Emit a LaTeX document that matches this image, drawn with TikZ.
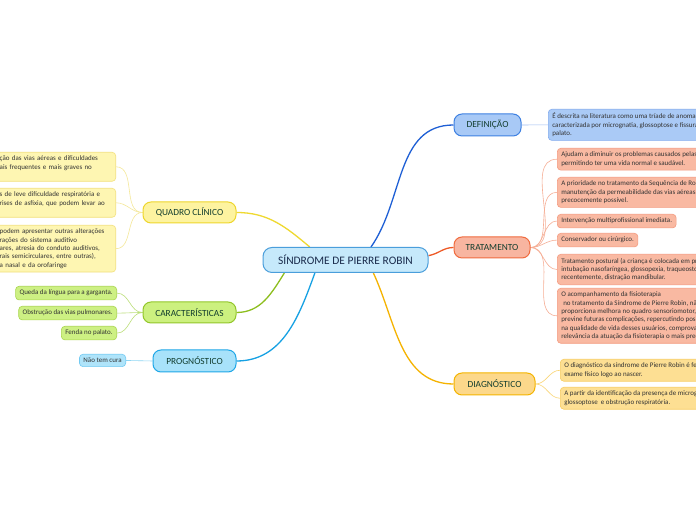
\documentclass[tikz,border=0pt]{standalone}
\usepackage{fontspec}
\setmainfont{Carlito}
\usetikzlibrary{calc,backgrounds}
\definecolor{cRootF}{HTML}{C6E9FB}
\definecolor{cRootD}{HTML}{4A9EDB}
\definecolor{cRootT}{HTML}{1A2B4C}
\definecolor{cBrT}{HTML}{123D2E}
\definecolor{cLeafT}{HTML}{333333}
\definecolor{cDefF}{HTML}{A8C9F6}
\definecolor{cDefD}{HTML}{3D80E2}
\definecolor{cDefL}{HTML}{1E5FD5}
\definecolor{cDefLF}{HTML}{AACAF6}
\definecolor{cDefLD}{HTML}{82ABEE}
\definecolor{cDefT}{HTML}{9CBDF2}
\definecolor{cTraF}{HTML}{F8B5A0}
\definecolor{cTraD}{HTML}{F06B3E}
\definecolor{cTraL}{HTML}{EE5A27}
\definecolor{cTraLF}{HTML}{F9B9A2}
\definecolor{cTraLD}{HTML}{F49B80}
\definecolor{cTraT}{HTML}{F6AE95}
\definecolor{cDiaF}{HTML}{FCD88B}
\definecolor{cDiaD}{HTML}{F4B400}
\definecolor{cDiaL}{HTML}{F5B301}
\definecolor{cDiaLF}{HTML}{FDDF93}
\definecolor{cDiaLD}{HTML}{F8CC60}
\definecolor{cDiaT}{HTML}{FAD677}
\definecolor{cQuaF}{HTML}{FDF3A0}
\definecolor{cQuaD}{HTML}{EED62C}
\definecolor{cQuaL}{HTML}{EFD930}
\definecolor{cQuaLF}{HTML}{FEF6B2}
\definecolor{cQuaLD}{HTML}{F2E07C}
\definecolor{cQuaT}{HTML}{F5E89A}
\definecolor{cCarF}{HTML}{CCF07F}
\definecolor{cCarD}{HTML}{93C62A}
\definecolor{cCarL}{HTML}{8DBE1E}
\definecolor{cCarLF}{HTML}{CDF083}
\definecolor{cCarLD}{HTML}{A9D64E}
\definecolor{cCarT}{HTML}{BCDF7A}
\definecolor{cProF}{HTML}{A8E2FA}
\definecolor{cProD}{HTML}{1FA7E7}
\definecolor{cProL}{HTML}{16A1E3}
\definecolor{cProLF}{HTML}{AFE4FA}
\definecolor{cProLD}{HTML}{72CAF2}
\definecolor{cProT}{HTML}{8ED6F4}
\tikzset{
  root/.style={draw=cRootD,fill=cRootF,line width=1bp,rounded corners=9bp,
    minimum width=165bp,minimum height=25bp,inner sep=0pt,text=cRootT,
    font=\fontsize{11.5}{13}\selectfont},
  branch/.style={line width=1bp,rounded corners=8bp,inner sep=0pt,text=cBrT,
    font=\fontsize{9.4}{11}\selectfont},
  leaf/.style={line width=0.6bp,rounded corners=3.5bp,inner xsep=4bp,inner ysep=3.8bp,
    align=left,text=cLeafT,font=\fontsize{7}{8.3}\selectfont},
  link/.style={line width=1.3bp},
  twig/.style={line width=0.6bp},
  defB/.style={branch,draw=cDefD,fill=cDefF},
  traB/.style={branch,draw=cTraD,fill=cTraF},
  diaB/.style={branch,draw=cDiaD,fill=cDiaF},
  quaB/.style={branch,draw=cQuaD,fill=cQuaF},
  carB/.style={branch,draw=cCarD,fill=cCarF},
  proB/.style={branch,draw=cProD,fill=cProF},
  defN/.style={leaf,draw=cDefLD,fill=cDefLF,anchor=north west},
  traN/.style={leaf,draw=cTraLD,fill=cTraLF,anchor=north west},
  diaN/.style={leaf,draw=cDiaLD,fill=cDiaLF,anchor=north west},
  quaN/.style={leaf,draw=cQuaLD,fill=cQuaLF,anchor=north east,text width=112bp},
  carN/.style={leaf,draw=cCarLD,fill=cCarLF,anchor=north east},
  proN/.style={leaf,draw=cProLD,fill=cProLF,anchor=north east},
}
\begin{document}
\begin{tikzpicture}[x=1bp,y=1bp]
  \useasboundingbox (0,0) rectangle (696,520);
  \clip (0,0) rectangle (696,520);
  % centre and main branches
  \node[root] (pr) at (345.5,260) {SÍNDROME DE PIERRE ROBIN};
  \node[defB,minimum width=67bp,minimum height=22bp] (def) at (487.5,395) {DEFINIÇÃO};
  \node[traB,minimum width=76bp,minimum height=21bp] (tra) at (492,272.5) {TRATAMENTO};
  \node[diaB,minimum width=81bp,minimum height=22bp] (dia) at (494.5,136) {DIAGNÓSTICO};
  \node[quaB,minimum width=93bp,minimum height=21bp] (qua) at (189.5,307.5) {QUADRO CLÍNICO};
  \node[carB,minimum width=93bp,minimum height=21bp] (car) at (189.5,207.5) {CARACTERÍSTICAS};
  \node[proB,minimum width=83bp,minimum height=22bp] (pro) at (194.5,159) {PROGNÓSTICO};
  % right leaves
  \node[defN] (def1) at (548,411) {É descrita na literatura como uma tríade de anomalias\\caracterizada por micrognatia, glossoptose e fissura de\\palato.};
  \node[traN] (tra1) at (557,372) {Ajudam a diminuir os problemas causados pelas alterações,\\permitindo ter uma vida normal e saudável.};
  \node[traN] (tra2) at (557,343) {A prioridade no tratamento da Sequência de Robin é a\\manutenção da permeabilidade das vias aéreas o mais\\precocemente possível.};
  \node[traN] (tra3) at (557,306) {Intervenção multiprofissional imediata.};
  \node[traN] (tra4) at (557,287) {Conservador ou cirúrgico.};
  \node[traN] (tra5) at (557,266) {Tratamento postural (a criança é colocada em prona),\\intubação nasofaríngea, glossopexia, traqueostomia e,\\recentemente, distração mandibular.};
  \node[traN] (tra6) at (557,232) {O acompanhamento da fisioterapia\\\hspace*{2bp}no tratamento da Síndrome de Pierre Robin, não só\\proporciona melhora no quadro sensoriomotor, como\\previne futuras complicações, repercutindo positivamente\\na qualidade de vida desses usuários, comprovando a\\relevância da atuação da fisioterapia o mais precocemente.};
  \node[diaN] (dia1) at (560,161) {O diagnóstico da síndrome de Pierre Robin é feito pelo\\exame físico logo ao nascer.};
  \node[diaN] (dia2) at (560,133) {A partir da identificação da presença de micrognatia,\\glossoptose\ \ e obstrução respiratória.};
  % left leaves
  \node[quaN] (qua1) at (116,368) {ção das vias aéreas e dificuldades\\ais frequentes e mais graves no\\\mbox{}};
  \node[quaN] (qua2) at (116,332) {s de leve dificuldade respiratória e\\rises de asfixia, que podem levar ao\\\mbox{}};
  \node[quaN] (qua3) at (116,295) {podem apresentar outras alterações\\rações do sistema auditivo\\ares, atresia do conduto auditivos,\\rais semicirculares, entre outras),\\a nasal e da orofaringe};
  \node[carN] (car1) at (117,234) {Queda da língua para a garganta.};
  \node[carN] (car2) at (117,214) {Obstrução das vias pulmonares.};
  \node[carN] (car3) at (117,194) {Fenda no palato.};
  \node[proN] (pro1) at (126,166) {Não tem cura};
  % connectors
  \begin{scope}[on background layer]
    \fill[white] (0,0) rectangle (696,520);
    \draw[link,cDefL] (pr.27) to[out=55,in=180] (def.west);
    \draw[link,cTraL] (pr.3) to[out=10,in=180] (tra.west);
    \draw[link,cDiaL] (pr.335) to[out=-65,in=180] (dia.west);
    \draw[link,cQuaL] (pr.160) to[out=140,in=0] (qua.east);
    \draw[link,cCarL] (pr.192) to[out=238,in=0] (car.east);
    \draw[link,cProL] (pr.203) to[out=250,in=0] (pro.east);
    \draw[twig,cDefT] (def.east) -- (def1.west);
    \foreach \l in {tra1,tra2,tra3,tra4,tra5,tra6}
      \draw[twig,cTraT] (tra.east) to[out=0,in=180] (\l.west);
    \foreach \l in {dia1,dia2}
      \draw[twig,cDiaT] (dia.east) to[out=0,in=180] (\l.west);
    \foreach \l in {qua1,qua2,qua3}
      \draw[twig,cQuaT] (qua.west) to[out=180,in=0] (\l.east);
    \foreach \l in {car1,car2,car3}
      \draw[twig,cCarT] (car.west) to[out=180,in=0] (\l.east);
    \draw[twig,cProT] (pro.west) -- (pro1.east);
  \end{scope}
\end{tikzpicture}
\end{document}
